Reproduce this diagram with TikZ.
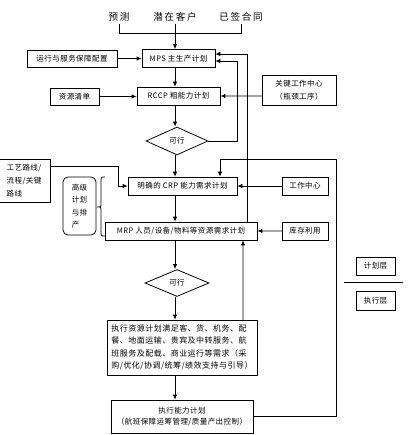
\documentclass[tikz,border=0pt]{standalone}
\usepackage{fontspec}
\setmainfont[LetterSpace=6]{Noto Sans CJK SC}
\newfontfamily\sourcefont[LetterSpace=18]{Noto Sans CJK SC}
\usetikzlibrary{shapes.geometric,arrows.meta}

\begin{document}
\begin{tikzpicture}[x=1pt, y=-1pt,
                    every node/.style={font=\fontsize{7.5}{11}\selectfont, inner sep=2pt},
                    source/.style={font=\sourcefont\fontsize{9.5}{11}\selectfont},
                    box/.style={draw, line width=0.8pt, minimum height=18pt},
                    check/.style={draw, diamond, line width=0.8pt, inner sep=0pt,
                                  minimum width=62pt, minimum height=28pt},
                    link/.style={-{Latex[length=5pt,width=4.5pt]}, line width=0.8pt},
                    greylink/.style={-{Latex[length=5pt,width=4.5pt,color=black]},
                                     line width=1.3pt, draw=gray!70},
                    plain/.style={line width=0.8pt}]
    \useasboundingbox (0,0) rectangle (409,435);
    \node[source] (fc) at (119,17) {预测};
    \node[source] (pc) at (175,17) {潜在客户};
    \node[source] (sc) at (241,17) {已签合同};
    \coordinate (spine) at (175,33);
    \coordinate (r1) at (237,0);
    \coordinate (r2) at (247,0);
    \coordinate (r3) at (336,0);
    \coordinate (r4) at (220,159);
    \coordinate (r5) at (118,0);
    \coordinate (r6) at (243,0);
    \node[box, minimum width=73pt] (mps) at (178.5,58.5) {MPS 主生产计划};
    \node[box, minimum width=90pt, minimum height=17pt] (ops) at (72,58.5) {运行与服务保障配置};
    \node[box, minimum width=83pt] (rccp) at (178.5,96) {RCCP 粗能力计划};
    \node[box, minimum width=49pt, minimum height=17pt] (bom) at (74.5,96.5) {资源清单};
    \node[box, minimum width=74pt, minimum height=30pt, align=left,
          font=\fontsize{7.5}{13}\selectfont] (key) at (299,90)
        {关键工作中心\\（瓶颈工序）};
    \node[check] (ok1) at (177,141) {可行};
    \node[box, minimum width=109pt] (crp) at (182.5,186) {明确的 CRP 能力需求计划};
    \node[box, minimum width=52pt, minimum height=43pt, align=left,
          font=\fontsize{7.5}{13}\selectfont] (route) at (24,180.5)
        {工艺路线/\\流程/关键\\路线};
    \node[box, minimum width=46pt] (wc) at (305,186) {工作中心};
    \node[draw, line width=0.8pt, rounded corners=5pt, minimum width=33pt, minimum height=58pt,
          align=left, font=\fontsize{7.5}{12.5}\selectfont] (aps) at (79.5,206)
        {高级\\计划\\与排\\产};
    \node[box, minimum width=152pt] (mrp) at (181,231) {MRP 人员/设备/物料等资源需求计划};
    \node[box, minimum width=46pt] (inv) at (305,231) {库存利用};
    \node[check, minimum width=64pt, minimum height=27pt] (ok2) at (177,283) {可行};
    \node[box, minimum width=150pt, minimum height=55pt, align=left,
          font=\fontsize{8}{12.5}\selectfont] (exr) at (182,347.5)
        {执行资源计划满足客、货、机务、配\\餐、地面运输、贵宾及中转服务、航\\班服务及配载、商业运行等需求（采\\购/优化/协调/统筹/绩效支持与引导）};
    \node[box, minimum width=142pt, minimum height=33pt, align=center] (exc) at (182,416.5)
        {执行能力计划\\（航班保障运筹管理/质量产出控制）};
    \node[box, minimum width=39pt] (plan) at (375.5,266) {计划层};
    \node[box, minimum width=39pt, minimum height=19pt] (exe) at (375.5,300.5) {执行层};
    \coordinate (mpsin1) at ([yshift=-2.5pt]mps.east);
    \coordinate (mpsin2) at ([yshift=4.5pt]mps.east);
    \coordinate (routeout) at ([yshift=14.5pt]route.east);
    \draw[plain] (344,282) -- (403,282);
    \draw[plain] (fc.south) -- (fc.south |- spine) -- (sc.south |- spine) -- (sc.south);
    \draw[link] (pc.south) -- (pc.south |- mps.north);
    \draw[link] (ops) -- (mps);
    \draw[link] (mps.south -| spine) -- (rccp.north -| spine);
    \draw[link] (bom) -- (bom -| rccp.west);
    \draw[greylink] (key.west |- rccp) -- (rccp.east);
    \draw[link] (rccp.south -| spine) -- (ok1.north -| spine);
    \draw[link] (ok1.east) -- (ok1.east -| r1) -- (r1 |- mpsin1) -- (mpsin1);
    \draw[link] (mrp.north -| r2) -- (r2 |- mpsin2) -- (mpsin2);
    \draw[link] (ok1.south -| spine) -- (crp.north -| spine);
    \draw[link] (exc.east) -- (exc.east -| r3) -- (r3 |- r4) -- (r4) -- (r4 |- crp.north);
    \draw[link] (routeout) -- (r5 |- routeout) -- (r5 |- crp.west) -- (crp.west);
    \draw[link] (wc) -- (crp);
    \draw[plain] (105,177) .. controls (101,177) .. (101,182) -- (101,203)
        .. controls (101,207) .. (97,207) .. controls (101,207) .. (101,211)
        -- (101,231) .. controls (101,236) .. (105,236);
    \draw[link] (crp.south -| spine) -- (mrp.north -| spine);
    \draw[greylink] (inv) -- (mrp);
    \draw[link] (mrp.south -| spine) -- (ok2.north -| spine);
    \draw[link] (ok2.south -| spine) -- (exr.north -| spine);
    \draw[greylink] (exr.north -| r6) -- (mrp.south -| r6);
    \draw[link] (exr.south -| spine) -- (exc.north -| spine);
\end{tikzpicture}
\end{document}
